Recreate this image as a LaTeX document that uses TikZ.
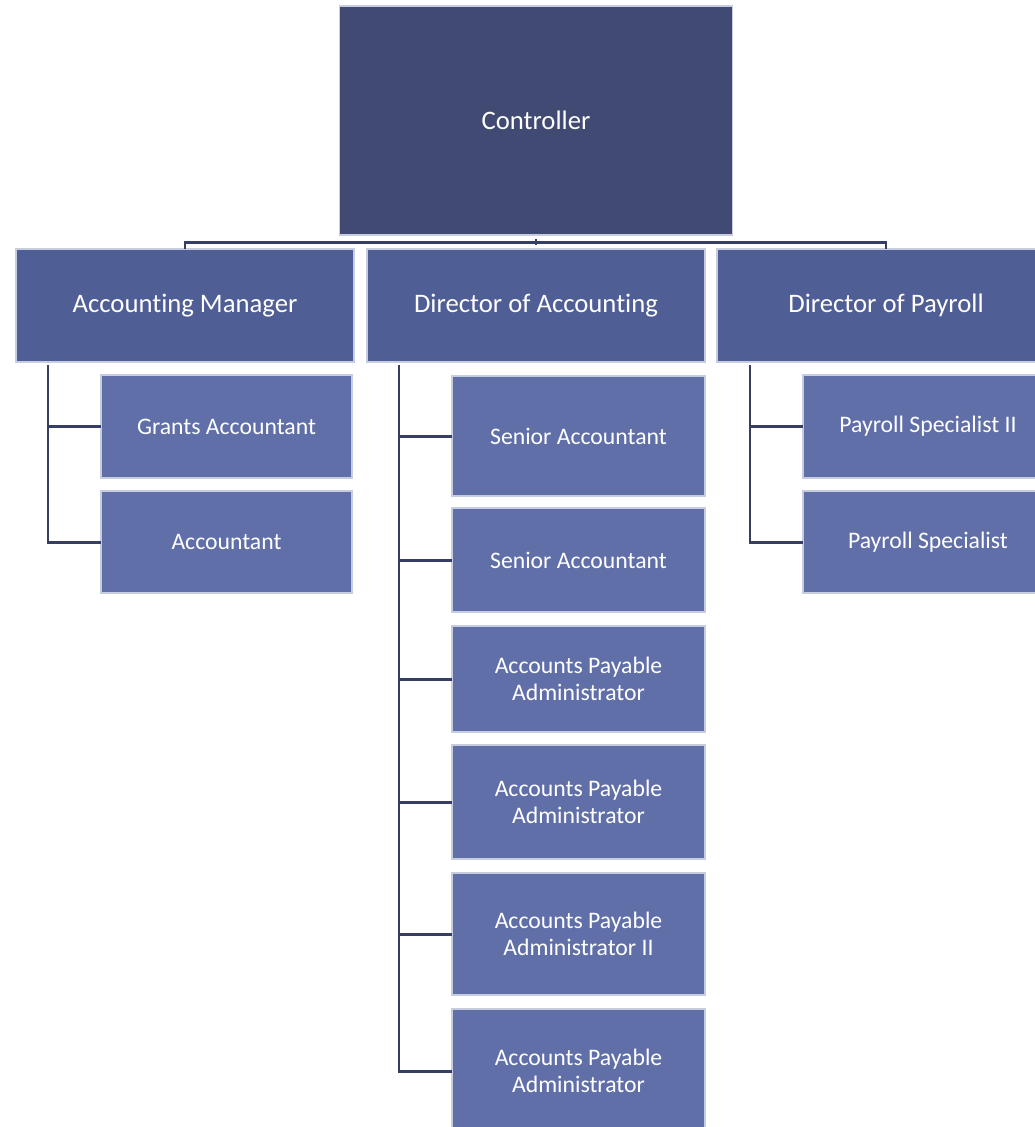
\documentclass[tikz,border=0pt]{standalone}
\usepackage{fontspec}
\setmainfont{Carlito}[Ligatures=NoCommon]
\usetikzlibrary{positioning}
\definecolor{topblue}{RGB}{64,74,115}
\definecolor{midblue}{RGB}{80,94,150}
\definecolor{lowblue}{RGB}{96,111,168}
\definecolor{linkblue}{RGB}{54,62,102}
\tikzset{
  unit/.style={rectangle, inner sep=0pt, outer sep=0pt, text=white, align=center,
    draw=white!65!lowblue, line width=0.6pt},
  topbox/.style={unit, fill=topblue, minimum width=393*0.02cm, minimum height=229*0.02cm,
    font=\fontsize{15.2}{18}\selectfont},
  headbox/.style={unit, fill=midblue, minimum width=338*0.02cm, minimum height=113*0.02cm,
    font=\fontsize{15.2}{18}\selectfont},
  staffbox/.style 2 args={unit, fill=lowblue, minimum width=#1*0.02cm, minimum height=#2*0.02cm,
    font=\fontsize{13.5}{15.4}\selectfont},
  link/.style={linkblue, line width=1.7pt}
}

\begin{document}
\begin{tikzpicture}[x=0.02cm, y=-0.02cm]
\clip (0,0) rectangle (1035,1127);

% top and heads
\node[topbox] (ctrl) at (536,120.5) {Controller};
\node[headbox] (am) at (185,305.5) {Accounting Manager};
\node[headbox] (doa) at (536,305.5) {Director of Accounting};
\node[headbox] (dop) at (886,305.5) {Director of Payroll};

% accounting manager staff
\node[staffbox={251}{103}] (ga) at (226.5,426.5) {Grants Accountant};
\node[staffbox={251}{102}] (acc) at (226.5,542) {Accountant};

% director of accounting staff
\node[staffbox={253}{120}] (sa1) at (578.5,436) {Senior Accountant};
\node[staffbox={253}{104}] (sa2) at (578.5,560) {Senior Accountant};
\node[staffbox={253}{106}] (ap1) at (578.5,679) {Accounts Payable\\Administrator};
\node[staffbox={253}{114}] (ap2) at (578.5,802) {Accounts Payable\\Administrator};
\node[staffbox={253}{122}] (apii) at (578.5,934) {Accounts Payable\\Administrator II};
\node[staffbox={253}{124}] (ap3) at (578.5,1071) {Accounts Payable\\Administrator};

% director of payroll staff
\node[staffbox={250}{103}] (psii) at (928,426.5) {Payroll Specialist II};
\node[staffbox={250}{102}] (ps) at (928,542) {Payroll Specialist};

% bus under controller
\draw[link] (am.north) -- ++(0,-7) -| (dop.north);
\draw[link, shorten <=2.5pt, shorten >=2pt] (ctrl.south) -- (doa.north);

% trunks
\coordinate (amtrunk) at (48,365);
\coordinate (doatrunk) at (399,365);
\coordinate (doptrunk) at (750,365);

\foreach \n in {ga,acc}
  \draw[link] (amtrunk) |- (\n.west);
\foreach \n in {sa1,sa2,ap1,ap2,apii,ap3}
  \draw[link] (doatrunk) |- (\n.west);
\foreach \n in {psii,ps}
  \draw[link] (doptrunk) |- (\n.west);

\end{tikzpicture}
\end{document}
